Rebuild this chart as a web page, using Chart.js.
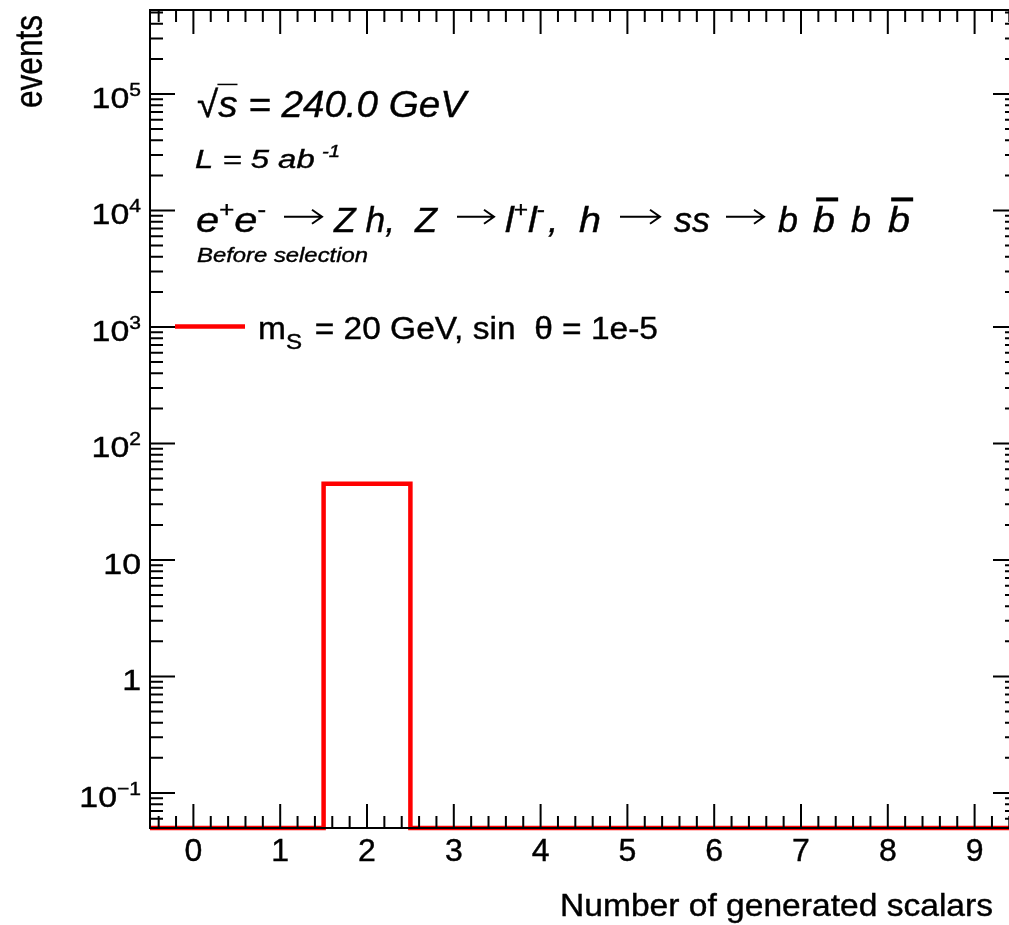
<!DOCTYPE html>
<html><head><meta charset="utf-8">
<script src="https://cdn.jsdelivr.net/npm/chart.js@4.4.1/dist/chart.umd.min.js"></script>
<style>
html,body{margin:0;padding:0;background:#fff;overflow:hidden;width:1009px;height:925px}
#wrap{position:absolute;left:0;top:0;width:1030px;height:925px}
</style>
</head><body><div id="wrap"><canvas id="c"></canvas></div>
<script>
// ---- data ----
const categories = [0,1,2,3,4,5,6,7,8,9];
const events = [0,0,45,0,0,0,0,0,0,0];
const xTickLabels = ['0','1','2','3','4','5','6','7','8','9'];
const yTickValues = [0.1,1,10,100,1000,10000,100000];
const yTickBases = ['10','1','10','10','10','10','10'];
const yTickExps = ['\u22121','','','2','3','4','5'];
const seriesName = 'm_S = 20 GeV, sin θ = 1e-5';
const xTitle = 'Number of generated scalars';
const yTitle = 'events';
const Y_MIN = 0.05, Y_MAX = 5.26e5, X_MIN = -0.5, X_MAX = 9.5;

const FONT = '"Liberation Sans", Arial, Helvetica, sans-serif';
function segFont(s, size){ const z = (s.sup||s.sub) ? size*(s.rel||0.62) : size; return (s.italic?'italic ':'') + z.toFixed(2) + 'px ' + FONT; }
function richWidth(ctx, segs, size){ let w=0; for(const s of segs){ ctx.font=segFont(s,size); w += ctx.measureText(s.t).width + (s.gap||0)*size; } return w; }
function drawRich(ctx, segs, x, y, size, o){
  o = o || {};
  const nat = richWidth(ctx, segs, size);
  let sx = o.sx || 1;
  if (o.width) sx = o.width / nat;
  const total = nat * sx;
  const x0 = o.align==='right' ? x-total : o.align==='center' ? x-total/2 : x;
  ctx.save(); ctx.translate(x0, y); ctx.scale(sx, 1);
  ctx.textBaseline = 'alphabetic'; ctx.textAlign = 'left';
  ctx.fillStyle = '#000'; ctx.strokeStyle = '#000'; ctx.lineWidth = o.stroke == null ? 0.4 : o.stroke;
  let cx = 0;
  for (const s of segs){
    ctx.font = segFont(s, size);
    const w = ctx.measureText(s.t).width;
    const dy = s.sup ? -size*(s.up||0.42) : s.sub ? size*(s.down||0.27) : 0;
    ctx.fillText(s.t, cx, dy);
    if (ctx.lineWidth > 0) ctx.strokeText(s.t, cx, dy);
    if (s.bar){ ctx.fillRect(cx + (s.barX||0)*size, -size*s.bar, w + (s.barW||0)*size, s.barT||2); }
    cx += w + (s.gap||0)*size;
  }
  ctx.restore();
}
function drawArrow(ctx, x1, x2, y){
  ctx.save(); ctx.strokeStyle = '#000'; ctx.lineWidth = 2; ctx.lineCap = 'butt';
  ctx.beginPath(); ctx.moveTo(x1, y); ctx.lineTo(x2 - 1, y);
  ctx.moveTo(x2 - 10, y - 7); ctx.lineTo(x2, y); ctx.lineTo(x2 - 10, y + 7);
  ctx.stroke(); ctx.restore();
}

const rootPlugin = {
  id: 'rootStyle',
  afterDraw(chart){
    const ctx = chart.ctx, a = chart.chartArea, xs = chart.scales.x, ys = chart.scales.y;
    ctx.save();
    // frame
    ctx.strokeStyle = '#000'; ctx.lineWidth = 2;
    ctx.strokeRect(a.left, a.top, a.right - a.left, a.bottom - a.top);
    // x ticks
    ctx.beginPath();
    for (let i = Math.ceil(X_MIN*5); i <= Math.floor(X_MAX*5); i++){
      const v = i/5; const px = xs.getPixelForValue(v);
      if (px <= a.left+1 || px >= a.right-1) continue;
      const len = (i % 5 === 0) ? 24 : 12;
      ctx.moveTo(px, a.bottom); ctx.lineTo(px, a.bottom - len);
      ctx.moveTo(px, a.top); ctx.lineTo(px, a.top + len);
    }
    // y ticks
    for (let e = -2; e <= 6; e++){
      for (let k = 1; k <= 9; k++){
        const v = k*Math.pow(10, e);
        if (v < Y_MIN*0.999 || v > Y_MAX) continue;
        const py = ys.getPixelForValue(v);
        const len = k === 1 ? 25 : 13;
        ctx.moveTo(a.left, py); ctx.lineTo(a.left + len, py);
        ctx.moveTo(a.right, py); ctx.lineTo(a.right - len, py);
      }
    }
    ctx.stroke();
    // x tick labels
    categories.forEach((c, i) => {
      drawRich(ctx, [{t: xTickLabels[i]}], xs.getPixelForValue(c), a.bottom + 33, 30.5, {align:'center', sx:1.05});
    });
    // y tick labels
    yTickValues.forEach((v, i) => {
      const segs = [{t: yTickBases[i]}];
      if (yTickExps[i]) segs.push({t: yTickExps[i], sup: true});
      drawRich(ctx, segs, 141, ys.getPixelForValue(v) + 14, 29.5, {align:'right', sx:1.15});
    });
    // axis titles
    drawRich(ctx, [{t: xTitle}], 560, 916, 30.5, {width: 433});
    ctx.save(); ctx.translate(42, 108); ctx.rotate(-Math.PI/2);
    drawRich(ctx, [{t: yTitle}], 0, 0, 39, {width: 93});
    ctx.restore();
    // annotations (TLatex)
    drawRich(ctx, [
      {t:'\u221a'}, {t:'s', italic:true, bar:0.9, barX:-0.02, barW:0.02, barT:1.5},
      {t:' = 240.0 GeV', italic:true}
    ], 197, 117, 37, {width: 269});
    drawRich(ctx, [
      {t:'L = 5 ab', italic:true, gap:0.22}, {t:'-1', italic:true, sup:true}
    ], 195, 168, 25.5, {width: 145});
    // e+ e- -> Z h, Z -> l+ l-, h -> ss -> b bbar b bbar
    const BY = 231.7, BS = 35, AY = BY - 15;
    drawRich(ctx, [{t:'e', italic:true}, {t:'+', sup:true}, {t:'e', italic:true}, {t:'-', sup:true}], 196, BY, BS, {width: 70});
    drawArrow(ctx, 284, 322, AY);
    drawRich(ctx, [{t:'Z h,', italic:true}], 334, BY, BS, {width: 61});
    drawRich(ctx, [{t:'Z', italic:true}], 415, BY, BS, {width: 22});
    drawArrow(ctx, 457, 494, AY);
    drawRich(ctx, [{t:'l', italic:true}, {t:'+', sup:true}, {t:'l', italic:true}, {t:'-', sup:true}], 505, BY, BS, {width: 40});
    drawRich(ctx, [{t:',', italic:true}], 548, BY, BS, {sx: 1.05});
    drawRich(ctx, [{t:'h', italic:true}], 579, BY, BS, {width: 22});
    drawArrow(ctx, 620, 660, AY);
    drawRich(ctx, [{t:'ss', italic:true}], 674, BY, BS, {width: 36});
    drawArrow(ctx, 726, 764, AY);
    drawRich(ctx, [{t:'b', italic:true}], 778, BY, BS, {width: 20});
    drawRich(ctx, [{t:'b', italic:true, bar:0.98, barX:0.08, barT:4}], 813, BY, BS, {width: 22});
    drawRich(ctx, [{t:'b', italic:true}], 851, BY, BS, {width: 20});
    drawRich(ctx, [{t:'b', italic:true, bar:0.98, barX:0.08, barT:4}], 888, BY, BS, {width: 22});
    drawRich(ctx, [{t:'Before selection', italic:true}], 197, 262.3, 20.4, {width: 171});
    // legend
    ctx.strokeStyle = chart.data.datasets[0].borderColor; ctx.lineWidth = 4.5;
    ctx.beginPath(); ctx.moveTo(175, 326.5); ctx.lineTo(245, 326.5); ctx.stroke();
    drawRich(ctx, [{t:'m'}, {t:'S', sub:true, rel:0.72, down:0.33, gap:0.1}, {t:' = 20 GeV, sin  \u03b8 = 1e-5'}], 258, 338.5, 31, {width: 400});
    ctx.restore();
  }
};

const stepData = categories.map((c, i) => ({x: c - 0.5, y: events[i] > 0 ? events[i] : Y_MIN}));
stepData.push({x: categories[categories.length-1] + 0.5, y: stepData[stepData.length-1].y});

new Chart(document.getElementById('c'), {
  type: 'line',
  data: { datasets: [{
    label: seriesName, data: stepData, borderColor: '#ff0000', borderWidth: 4.5,
    stepped: true, pointRadius: 0, fill: false, clip: false,
    borderJoinStyle: 'miter', borderCapStyle: 'butt'
  }]},
  options: {
    responsive: true, maintainAspectRatio: false, animation: false, events: [],
    layout: { padding: { top: 10, right: 12, left: 0, bottom: 0 } },
    plugins: { legend: { display: false }, tooltip: { enabled: false } },
    scales: {
      x: { type: 'linear', min: X_MIN, max: X_MAX,
           ticks: { display: false }, grid: { display: false }, border: { display: false },
           afterFit(s){ s.height = 97; } },
      y: { type: 'logarithmic', min: Y_MIN, max: Y_MAX,
           ticks: { display: false }, grid: { display: false }, border: { display: false },
           afterFit(s){ s.width = 150; } }
    }
  },
  plugins: [rootPlugin]
});
</script>
</body></html>
